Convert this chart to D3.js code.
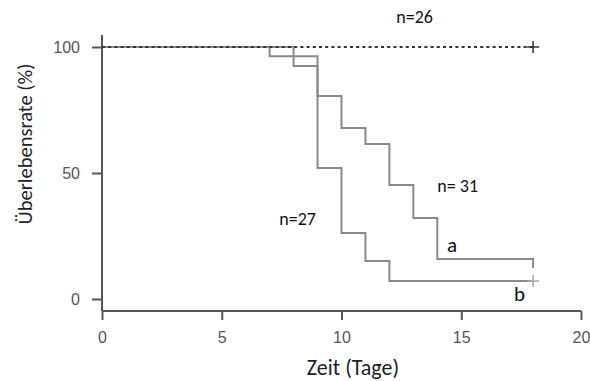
<!DOCTYPE html>
<html><head><meta charset="utf-8">
<script src="https://cdn.jsdelivr.net/npm/d3@7"></script>
<style>body{margin:0;background:#fff}</style>
</head><body>
<script>
// Data
const xTicks = [0, 5, 10, 15, 20];
const yTicks = [0, 50, 100];
// Kaplan-Meier step points: [day, survival %]
const seriesControl = [[0, 100], [18, 100]];           // n=26, dotted
const seriesA = [[0, 100], [8, 92.5], [9, 80.6], [10, 67.9], [11, 61.5], [12, 45.2], [13, 32.1], [14, 15.9], [18, 12.3]]; // n=31
const seriesB = [[0, 100], [7, 96.3], [9, 52], [10, 26.2], [11, 15.1], [12, 7.1], [18, 7.1]]; // n=27
const censorControl = [[18, 100]];
const censorB = [[18, 7.1]];
const labels = [
  {text: "n=26", x: 13.05, y: 109.5, anchor: "middle"},
  {text: "n= 31", x: 14.0, y: 42.5, anchor: "start"},
  {text: "n=27", x: 7.4, y: 29.5, anchor: "start"},
  {text: "a", x: 14.4, y: 18.5, anchor: "start"},
  {text: "b", x: 17.2, y: -0.6, anchor: "start"}
];

const W = 590, H = 381;
const svg = d3.select("body").append("svg").attr("width", W).attr("height", H);
const x = d3.scaleLinear().domain([0, 20]).range([102, 581]);
const y = d3.scaleLinear().domain([0, 100]).range([299, 47]);
const axisColor = "#555";
const tickFont = "Liberation Sans, Arial, sans-serif";
const labFont = "Carlito, 'Open Sans', 'Noto Sans', sans-serif";

// Axes
const gx = svg.append("g").attr("transform", "translate(0,311)")
  .call(d3.axisBottom(x).tickValues(xTicks).tickSize(9).tickPadding(12));
gx.select(".domain").attr("d", `M${x(0)},0H${x(20)}`);
const gy = svg.append("g").attr("transform", "translate(102,0)")
  .call(d3.axisLeft(y).tickValues(yTicks).tickSize(10).tickPadding(12));
gy.select(".domain").attr("d", `M0,35V311`);
svg.selectAll(".domain, .tick line").attr("stroke", axisColor).attr("stroke-width", 2);
svg.selectAll(".tick text").attr("fill", "#555").style("font-family", tickFont).style("font-size", "16px");

const line = d3.line().x(d => x(d[0])).y(d => y(d[1])).curve(d3.curveStepAfter);

svg.append("path").datum(seriesA).attr("d", line).attr("fill", "none")
  .attr("stroke", "#8a8a8a").attr("stroke-width", 2);
svg.append("path").datum(seriesB).attr("d", line).attr("fill", "none")
  .attr("stroke", "#8a8a8a").attr("stroke-width", 2);
svg.append("path").datum(seriesControl).attr("d", line).attr("fill", "none")
  .attr("stroke", "#333").attr("stroke-width", 2).attr("stroke-dasharray", "3,3.2");

function cross(data, color) {
  data.forEach(d => {
    svg.append("path").attr("d", `M${x(d[0]) - 6},${y(d[1])}h12M${x(d[0])},${y(d[1]) - 6}v12`)
      .attr("stroke", color).attr("stroke-width", 1.5);
  });
}
cross(censorControl, "#333");
cross(censorB, "#aaa");

svg.selectAll("text.lab").data(labels).enter().append("text").attr("class", "lab")
  .attr("x", d => x(d.x)).attr("y", d => y(d.y)).attr("text-anchor", d => d.anchor)
  .style("font-family", labFont).style("font-size", d => (d.text.length === 1 ? "21px" : "18px"))
  .attr("fill", "#111").text(d => d.text);

svg.append("text").attr("x", 353).attr("y", 375).attr("text-anchor", "middle")
  .style("font-family", labFont).style("font-size", "22px").attr("fill", "#222").text("Zeit (Tage)");
svg.append("text").attr("transform", "translate(32,144) rotate(-90)").attr("text-anchor", "middle")
  .style("font-family", labFont).style("font-size", "20.5px").attr("fill", "#222").text("Überlebensrate (%)");
</script>
</body></html>
